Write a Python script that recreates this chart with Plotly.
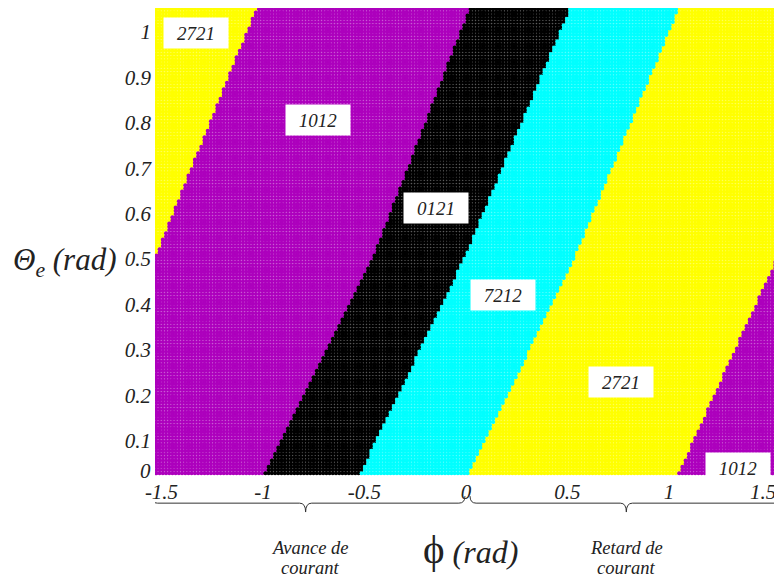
import numpy as np
import plotly.graph_objects as go

# ---------------- data ----------------
# operating-mode regions, left to right along phi
region_codes = ["2721", "1012", "0121", "7212", "2721", "1012"]
region_colors = ["#FFFF00", "#AD00BD", "#000000", "#00FFFF", "#FFFF00", "#AD00BD"]

# region boundaries: phi (rad) at the sampled Theta_e values
boundary_theta = [0.0, 0.5, 1.06]
boundary_yellow_magenta_left = [-2.0, -1.535, -1.025]
boundary_magenta_black = [-1.025, -0.46, 0.025]
boundary_black_cyan = [-0.55, -0.01, 0.52]
boundary_cyan_yellow = [-0.015, 0.53, 1.055]
boundary_yellow_magenta_right = [1.02, 1.53, 2.07]

# sampling grid of the simulation (phi, Theta_e)
phi_start, phi_stop, phi_step = -1.525, 1.55, 0.0158
theta_start, theta_stop, theta_step = 0.028, 1.053, 0.00705

# region labels
label_text = ["2721", "1012", "0121", "7212", "2721", "1012"]
label_phi = [-1.33, -0.73, -0.148, 0.182, 0.763, 1.34]
label_theta = [0.998, 0.806, 0.612, 0.42, 0.229, 0.04]

x_tick_vals = [-1.5, -1, -0.5, 0, 0.5, 1, 1.5]
x_tick_text = ["-1.5", "-1", "-0.5", "0", "0.5", "1", "1.5"]
y_tick_vals = [0.1, 0.2, 0.3, 0.4, 0.5, 0.6, 0.7, 0.8, 0.9, 1.0]
y_tick_text = ["0.1", "0.2", "0.3", "0.4", "0.5", "0.6", "0.7", "0.8", "0.9", "1"]

# ---------------- classification of the grid ----------------
boundaries = [boundary_yellow_magenta_left, boundary_magenta_black,
              boundary_black_cyan, boundary_cyan_yellow, boundary_yellow_magenta_right]
phi_grid = np.arange(phi_start, phi_stop, phi_step)
theta_grid = np.arange(theta_start, theta_stop, theta_step)
P, T = np.meshgrid(phi_grid, theta_grid)
idx = np.zeros(P.shape, dtype=int)
for b in boundaries:
    bt = np.interp(T, boundary_theta, b)
    idx += (P > bt).astype(int)
idx = np.clip(idx, 0, len(region_codes) - 1)

fig = go.Figure()
color_groups = {}
for k, c in enumerate(region_colors):
    color_groups.setdefault(c, []).append(k)
for c, ks in color_groups.items():
    mask = np.isin(idx, ks)
    fig.add_trace(go.Scatter(
        x=P[mask], y=T[mask], mode="markers",
        marker=dict(symbol="circle", size=4.1, color=c, line=dict(width=0)),
        hoverinfo="skip", showlegend=False))

serif = "Liberation Serif"
tick_font = dict(family=serif, size=21, color="#222")

for t, px_, ty in zip(label_text, label_phi, label_theta):
    fig.add_annotation(x=px_, y=ty, xref="x", yref="y", text=f"<i>{t}</i>", showarrow=False,
                       font=dict(family=serif, size=19, color="#222"),
                       bgcolor="white", width=62, height=28)

# y = 0 label at the corner
fig.add_annotation(x=0, y=0.0, xref="paper", yref="paper", text="<i>0</i>", showarrow=False,
                   xanchor="right", yanchor="middle", xshift=-2, yshift=5,
                   font=tick_font)

# last x tick label sits against the right edge, drawn so it is not clipped
fig.add_annotation(x=x_tick_vals[-1], y=0, xref="x", yref="paper",
                   text=f"<i>{x_tick_text[-1]}</i>", showarrow=False,
                   xanchor="center", yanchor="top", xshift=-7, yshift=-2,
                   font=tick_font)

# axis titles
fig.add_annotation(x=-0.057, y=0.457, xref="paper", yref="paper",
                   xanchor="right", yanchor="middle",
                   text="<i>Θ<sub>e</sub> (rad)</i>", showarrow=False,
                   font=dict(family=serif, size=31, color="#222"))
fig.add_annotation(x=0.02, y=-0.156, xref="x", yref="paper",
                   xanchor="center", yanchor="middle",
                   text="<span style='font-size:41px'>ϕ</span> <i>(rad)</i>", showarrow=False,
                   font=dict(family=serif, size=32, color="#222"))

# braces
def brace(x0, x1, xm, yb=-0.058, yend=-0.043, ytip=-0.077, d=0.03):
    return (f"M {x0},{yend} Q {x0},{yb} {x0+d},{yb} L {xm-d},{yb} "
            f"Q {xm},{yb} {xm},{ytip} Q {xm},{yb} {xm+d},{yb} "
            f"L {x1-d},{yb} Q {x1},{yb} {x1},{yend}")

fig.add_shape(type="path", xref="x", yref="paper", path=brace(-1.55, -0.005, -0.79),
              line=dict(color="#333", width=1))
fig.add_shape(type="path", xref="x", yref="paper", path=brace(0.02, 1.56, 0.79),
              line=dict(color="#333", width=1))
brace_font = dict(family=serif, size=18.5, color="#222")
for xc, l1, l2 in [(-0.77, "Avance de", "courant"), (0.79, "Retard de", "courant")]:
    fig.add_annotation(x=xc, y=-0.154, xref="x", yref="paper", xanchor="center",
                       yanchor="middle", text=f"<i>{l1}</i>", showarrow=False, font=brace_font)
    fig.add_annotation(x=xc, y=-0.197, xref="x", yref="paper", xanchor="center",
                       yanchor="middle", text=f"<i>{l2}</i>", showarrow=False, font=brace_font)

fig.update_layout(
    width=774, height=572,
    margin=dict(l=147, r=2, t=0, b=104, autoexpand=False),
    paper_bgcolor="white", plot_bgcolor="white",
    xaxis=dict(range=[-1.532, 1.547], tickvals=x_tick_vals[:-1],
               ticktext=[f"<i>{t}</i>" for t in x_tick_text[:-1]],
               showgrid=False, zeroline=False, showline=False, ticks="",
               tickfont=tick_font, ticklabelstandoff=1, automargin=False),
    yaxis=dict(range=[0.022, 1.053], tickvals=y_tick_vals,
               ticktext=[f"<i>{t}</i>" for t in y_tick_text],
               showgrid=False, zeroline=False, showline=False, ticks="",
               tickfont=tick_font, ticklabelstandoff=3, automargin=False),
)

fig.write_html("out.html")
